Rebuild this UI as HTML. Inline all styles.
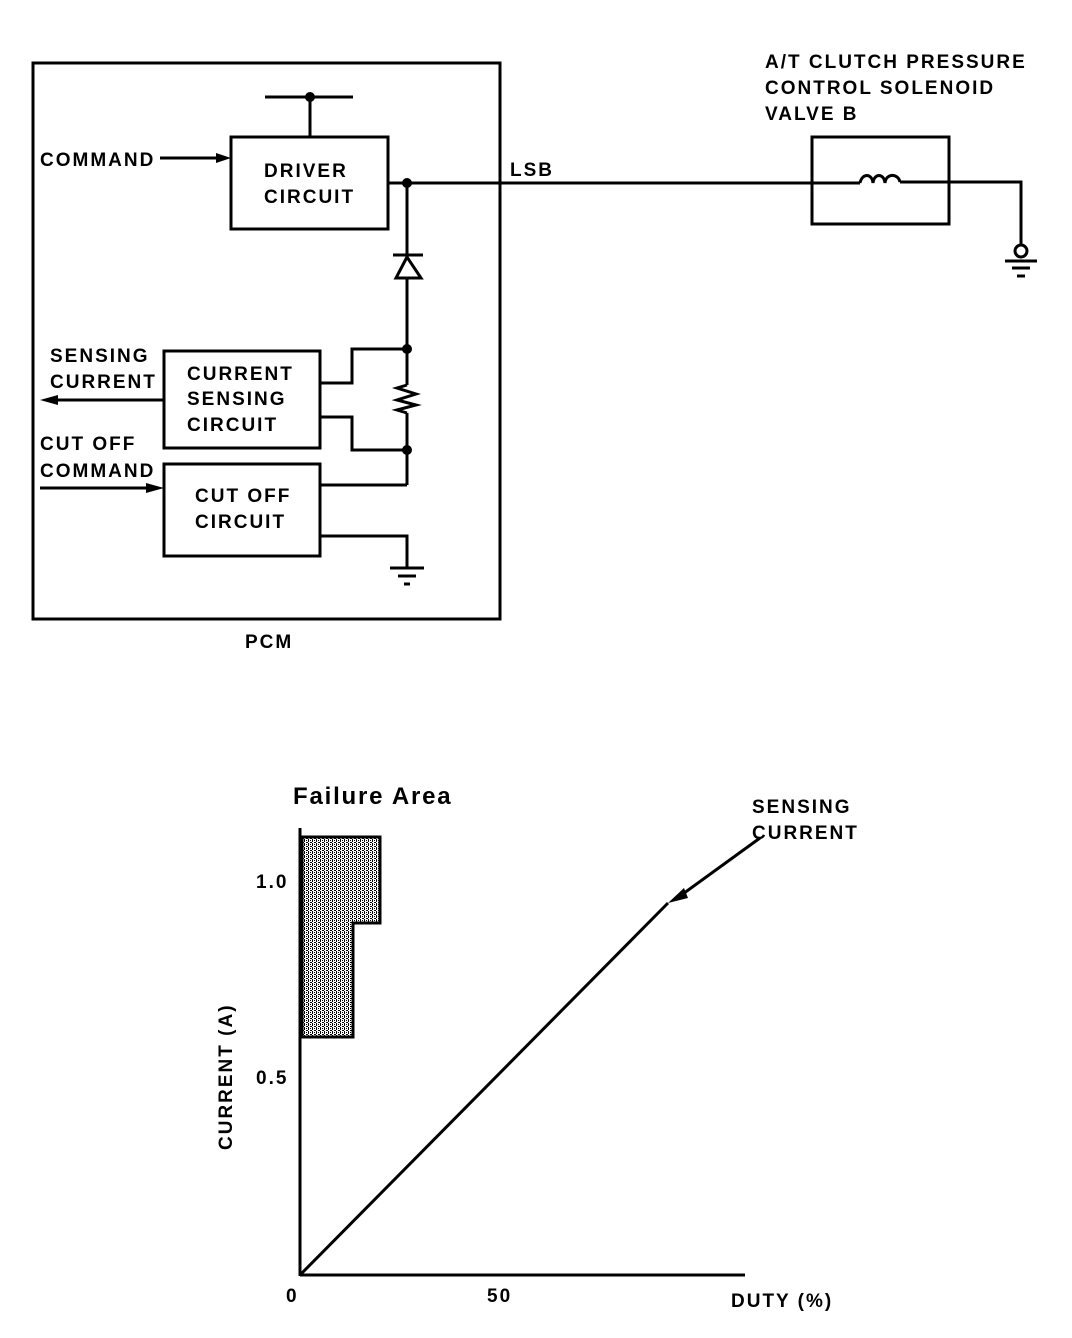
<!DOCTYPE html>
<html><head><style>body{margin:0;background:#fff}svg{display:block}text{font-family:"Liberation Sans",Arial,sans-serif;font-weight:bold;font-size:19px;letter-spacing:2px;fill:#000}</style></head>
<body>
<svg width="1072" height="1338" viewBox="0 0 1072 1338" xmlns="http://www.w3.org/2000/svg">
<defs>
<pattern id="p" width="4" height="4" patternUnits="userSpaceOnUse"><rect width="4" height="4" fill="#fff"/><rect width="1" height="2" fill="#000"/><rect x="2" y="2" width="2" height="1" fill="#000"/><rect x="2" y="0" width="1" height="1" fill="#000"/><rect x="0" y="3" width="1" height="1" fill="#000"/></pattern>
</defs>
<g fill="none" stroke="#000" stroke-width="3">
<rect x="33" y="63" width="467" height="556"/>
<line x1="265" y1="97" x2="353" y2="97"/>
<line x1="310" y1="97" x2="310" y2="137"/>
<rect x="231" y="137" width="157" height="92"/>
<line x1="160" y1="158" x2="222" y2="158"/>
<line x1="388" y1="183" x2="860" y2="183"/>
<line x1="407" y1="183" x2="407" y2="385"/>
<line x1="393" y1="255" x2="423" y2="255"/>
<polygon points="407,257 396,278 421,278" fill="#fff"/>
<polyline points="407,385 397,388 416,394 397,400 416,405 397,410 407,413"/>
<line x1="407" y1="413" x2="407" y2="485"/>
<rect x="164" y="351" width="156" height="97"/>
<polyline points="320,383 352,383 352,349 407,349"/>
<polyline points="320,417 352,417 352,450 407,450"/>
<rect x="164" y="464" width="156" height="92"/>
<polyline points="320,485 407,485"/>
<polyline points="320,536 407,536 407,568"/>
<line x1="390" y1="568" x2="424" y2="568"/>
<line x1="398" y1="576" x2="416" y2="576"/>
<line x1="404" y1="584" x2="410" y2="584"/>
<line x1="55" y1="400" x2="164" y2="400"/>
<line x1="40" y1="488" x2="150" y2="488"/>
<rect x="812" y="137" width="137" height="87"/>
<path d="M860,183 C862,173 872,173 873,183 C874,173 884,173 885,183 C886,173 898,173 900,182"/>
<polyline points="900,182 1021,182 1021,245"/>
<circle cx="1021" cy="251" r="6"/>
<line x1="1005" y1="261" x2="1037" y2="261"/>
<line x1="1012" y1="268" x2="1030" y2="268"/>
<line x1="1017" y1="276" x2="1025" y2="276"/>
</g>
<g fill="#000">
<circle cx="310" cy="97" r="5"/><circle cx="407" cy="183" r="5"/><circle cx="407" cy="349" r="5"/><circle cx="407" cy="450" r="5"/>
<polygon points="231,158 216,153 216,163"/>
<polygon points="40,400 58,395 58,405"/>
<polygon points="164,488 146,483 146,493"/>
</g>
<text x="40" y="166">COMMAND</text>
<text x="264" y="177">DRIVER</text><text x="264" y="203">CIRCUIT</text>
<text x="510" y="176">LSB</text>
<text x="50" y="362">SENSING</text><text x="50" y="388">CURRENT</text>
<text x="187" y="380">CURRENT</text><text x="187" y="405">SENSING</text><text x="187" y="431">CIRCUIT</text>
<text x="40" y="450">CUT OFF</text><text x="40" y="477">COMMAND</text>
<text x="195" y="502">CUT OFF</text><text x="195" y="528">CIRCUIT</text>
<text x="245" y="648">PCM</text>
<text x="765" y="68">A/T CLUTCH PRESSURE</text><text x="765" y="94">CONTROL SOLENOID</text><text x="765" y="120">VALVE B</text>
<polygon points="302,837 380,837 380,923 353,923 353,1037 302,1037" fill="url(#p)" stroke="#000" stroke-width="3"/>
<g stroke="#000" stroke-width="3" fill="none">
<line x1="300" y1="828" x2="300" y2="1276"/>
<line x1="300" y1="1275" x2="745" y2="1275"/>
<line x1="300" y1="1275" x2="668" y2="903"/>
<line x1="760" y1="838" x2="680" y2="896"/>
</g>
<polygon points="668,903 684,888 688,898" fill="#000"/>
<text x="293" y="804" style="font-size:24px;letter-spacing:1.8px">Failure Area</text>
<text x="752" y="813">SENSING</text><text x="752" y="839">CURRENT</text>
<text x="256" y="888">1.0</text>
<text x="256" y="1084">0.5</text>
<text x="286" y="1302">0</text>
<text x="487" y="1302">50</text>
<text x="731" y="1307">DUTY (%)</text>
<text transform="translate(232,1150) rotate(-90)">CURRENT (A)</text>
</svg>
</body></html>
